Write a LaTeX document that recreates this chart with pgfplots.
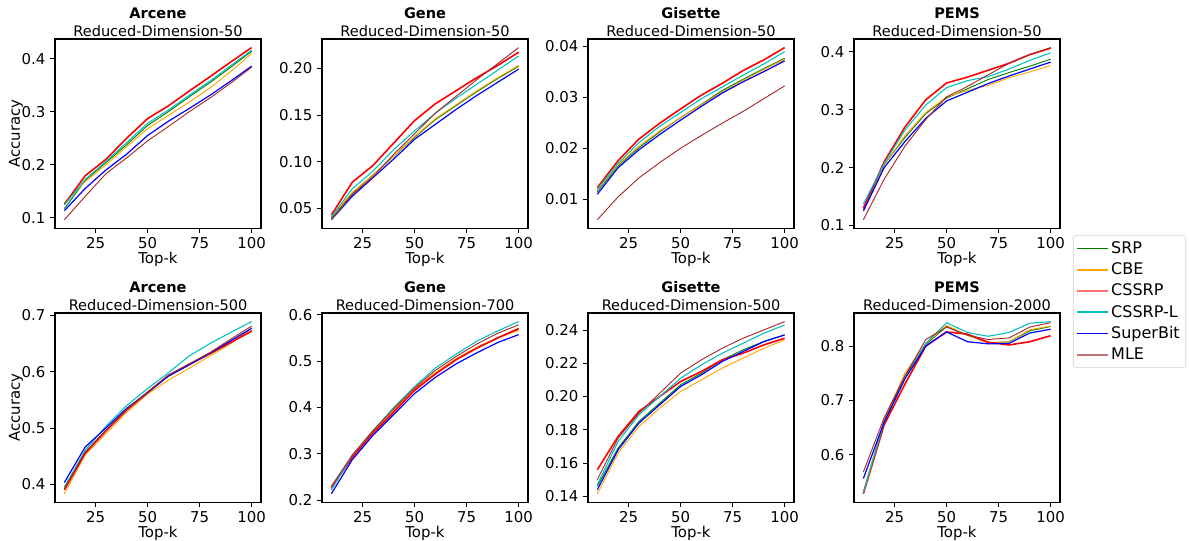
\documentclass[border=0pt]{standalone}
\usepackage{pgfplots}
\usepackage{pgfplotstable}
\pgfplotsset{compat=1.18}
\usepackage{fontspec}
\setmainfont{DejaVu Sans}

\definecolor{srp}{rgb}{0,0.5,0}
\definecolor{cbe}{HTML}{FFA500}
\definecolor{cssrp}{rgb}{1,0,0}
\definecolor{cssrpl}{rgb}{0,0.75,0.75}
\definecolor{superbit}{rgb}{0,0,1}
\definecolor{mle}{HTML}{A52A2A}

\pgfplotstableread{
k srp cbe cssrp cssrpl superbit mle
10 0.117 0.128 0.125 0.124 0.113 0.096
20 0.170 0.168 0.179 0.172 0.155 0.140
30 0.204 0.200 0.210 0.206 0.190 0.183
40 0.238 0.234 0.250 0.242 0.220 0.213
50 0.274 0.268 0.287 0.278 0.255 0.245
60 0.300 0.293 0.311 0.303 0.282 0.272
70 0.328 0.318 0.339 0.331 0.306 0.300
80 0.355 0.345 0.366 0.358 0.331 0.326
90 0.384 0.376 0.394 0.387 0.358 0.354
100 0.414 0.410 0.421 0.416 0.386 0.384
}\tA
\pgfplotstableread{
k srp cbe cssrp cssrpl superbit mle
10 0.040 0.041 0.043 0.041 0.038 0.038
20 0.066 0.067 0.078 0.071 0.063 0.065
30 0.086 0.086 0.096 0.090 0.083 0.084
40 0.106 0.106 0.120 0.113 0.103 0.108
50 0.126 0.127 0.144 0.133 0.124 0.130
60 0.145 0.146 0.162 0.152 0.140 0.152
70 0.160 0.161 0.176 0.168 0.156 0.170
80 0.175 0.176 0.190 0.183 0.171 0.188
90 0.189 0.190 0.203 0.198 0.185 0.205
100 0.202 0.203 0.217 0.213 0.199 0.222
}\tB
\pgfplotstableread{
k srp cbe cssrp cssrpl superbit mle
10 0.0115 0.0118 0.0123 0.0120 0.0110 0.0060
20 0.0166 0.0168 0.0176 0.0171 0.0162 0.0105
30 0.0201 0.0204 0.0218 0.0211 0.0197 0.0142
40 0.0232 0.0234 0.0249 0.0243 0.0227 0.0172
50 0.0260 0.0260 0.0277 0.0270 0.0255 0.0200
60 0.0286 0.0285 0.0304 0.0297 0.0282 0.0225
70 0.0313 0.0310 0.0327 0.0320 0.0308 0.0249
80 0.0335 0.0333 0.0352 0.0343 0.0330 0.0272
90 0.0356 0.0354 0.0373 0.0365 0.0350 0.0297
100 0.0376 0.0374 0.0397 0.0389 0.0371 0.0322
}\tC
\pgfplotstableread{
k srp cbe cssrp cssrpl superbit mle
10 0.128 0.130 0.130 0.137 0.125 0.110
20 0.205 0.205 0.210 0.207 0.200 0.180
30 0.252 0.255 0.270 0.265 0.245 0.237
40 0.293 0.295 0.317 0.308 0.285 0.283
50 0.320 0.322 0.346 0.338 0.315 0.322
60 0.336 0.333 0.356 0.350 0.330 0.340
70 0.352 0.342 0.368 0.357 0.345 0.360
80 0.364 0.355 0.380 0.370 0.358 0.380
90 0.375 0.365 0.395 0.385 0.370 0.395
100 0.387 0.376 0.406 0.398 0.382 0.407
}\tD
\pgfplotstableread{
k srp cbe cssrp cssrpl superbit mle
10 0.390 0.383 0.390 0.395 0.403 0.392
20 0.456 0.452 0.455 0.460 0.466 0.457
30 0.495 0.490 0.495 0.503 0.500 0.496
40 0.532 0.528 0.532 0.540 0.535 0.533
50 0.563 0.560 0.563 0.570 0.563 0.564
60 0.593 0.585 0.593 0.598 0.592 0.594
70 0.613 0.606 0.613 0.628 0.612 0.614
80 0.632 0.628 0.632 0.650 0.633 0.634
90 0.652 0.650 0.652 0.670 0.655 0.658
100 0.673 0.678 0.672 0.689 0.677 0.681
}\tE
\pgfplotstableread{
k srp cbe cssrp cssrpl superbit mle
10 0.226 0.226 0.228 0.222 0.214 0.230
20 0.293 0.295 0.292 0.297 0.287 0.297
30 0.346 0.348 0.345 0.350 0.340 0.350
40 0.391 0.393 0.390 0.400 0.385 0.397
50 0.438 0.440 0.437 0.445 0.430 0.442
60 0.473 0.475 0.472 0.485 0.465 0.480
70 0.504 0.505 0.503 0.515 0.494 0.510
80 0.529 0.530 0.528 0.543 0.518 0.537
90 0.550 0.550 0.550 0.565 0.540 0.560
100 0.569 0.566 0.570 0.585 0.557 0.578
}\tF
\pgfplotstableread{
k srp cbe cssrp cssrpl superbit mle
10 0.146 0.1415 0.156 0.147 0.144 0.150
20 0.169 0.166 0.176 0.173 0.168 0.175
30 0.185 0.182 0.191 0.189 0.184 0.190
40 0.196 0.193 0.200 0.200 0.195 0.202
50 0.207 0.203 0.209 0.211 0.206 0.214
60 0.214 0.210 0.215 0.219 0.213 0.222
70 0.222 0.217 0.222 0.226 0.221 0.229
80 0.228 0.223 0.226 0.232 0.227 0.235
90 0.233 0.229 0.231 0.238 0.233 0.240
100 0.237 0.234 0.235 0.243 0.237 0.245
}\tG
\pgfplotstableread{
k srp cbe cssrp cssrpl superbit mle
10 0.530 0.530 0.528 0.530 0.556 0.568
20 0.662 0.665 0.655 0.660 0.660 0.668
30 0.745 0.750 0.730 0.740 0.740 0.745
40 0.803 0.805 0.800 0.805 0.800 0.812
50 0.836 0.838 0.826 0.843 0.826 0.835
60 0.820 0.820 0.822 0.825 0.808 0.820
70 0.806 0.806 0.807 0.818 0.804 0.812
80 0.808 0.808 0.802 0.825 0.805 0.815
90 0.828 0.830 0.808 0.842 0.824 0.835
100 0.836 0.837 0.819 0.845 0.831 0.843
}\tH

\newcommand{\tfs}{\fontsize{10.9}{13.5}\selectfont}
\newcommand{\lfs}{\fontsize{11.2}{13.5}\selectfont}
\newcommand{\gfs}{\fontsize{12}{14}\selectfont}
\newcommand{\sixplots}[1]{%
\addplot[srp, line width=0.7pt, legend image post style={draw=srp}] table[x=k,y=srp]{#1};
\addplot[cbe, line width=0.7pt, legend image post style={draw=cbe}] table[x=k,y=cbe]{#1};
\addplot[cssrp, line width=1.2pt, legend image post style={line width=1.8pt, draw=cssrp!55}] table[x=k,y=cssrp]{#1};
\addplot[cssrpl, line width=0.8pt, legend image post style={draw=cssrpl}] table[x=k,y=cssrpl]{#1};
\addplot[superbit, line width=0.9pt, legend image post style={draw=superbit}] table[x=k,y=superbit]{#1};
\addplot[mle, line width=0.7pt, legend image post style={line width=1.6pt, draw=mle!65}] table[x=k,y=mle]{#1};
}

\pgfplotsset{
  panel/.style={
    scale only axis, width=154.5pt, height=142pt,
    xmin=5.5, xmax=104.5, enlarge y limits=0.05,
    scaled y ticks=false,
    xtick={25,50,75,100}, xticklabels={25,50,75,100},
    axis line style={line width=1.1pt},
    tick style={line width=0.6pt, black},
    major tick length=3.6pt,
    tick align=outside, xtick pos=bottom, ytick pos=left,
    /pgf/number format/assume math mode=true,
    every tick label/.append style={font=\lfs},
    every axis label/.append style={font=\lfs},
    xlabel={Top-k},
    xlabel style={at={(axis description cs:0.5,-0.165)}, anchor=center},
    ylabel style={at={(axis description cs:-0.19,0.5)}, anchor=center},
    title style={font=\tfs, align=center, at={(0.5,1)}, anchor=south, yshift=-4.5pt, inner sep=0pt},
    every axis plot/.append style={line join=round},
    legend image code/.code={\draw[line width=1.2pt, #1] plot coordinates {(0cm,0cm) (0.8cm,0cm)};},
  }
}

\begin{document}
\begin{tikzpicture}
\path[use as bounding box] (0,0) rectangle (891.75pt,-405pt);

\begin{axis}[panel, at={(41.25pt,-29.25pt)}, anchor=north west,
  title={\textbf{Arcene}\\Reduced-Dimension-50}, ylabel={Accuracy},
  ytick={0.1,0.2,0.3,0.4}, yticklabels={0.1,0.2,0.3,0.4}]
\sixplots{\tA}
\end{axis}

\begin{axis}[panel, at={(241.5pt,-29.25pt)}, anchor=north west,
  title={\textbf{Gene}\\Reduced-Dimension-50},
  ytick={0.05,0.10,0.15,0.20}, yticklabels={0.05,0.10,0.15,0.20}]
\sixplots{\tB}
\end{axis}

\begin{axis}[panel, at={(441pt,-29.25pt)}, anchor=north west,
  title={\textbf{Gisette}\\Reduced-Dimension-50},
  ytick={0.01,0.02,0.03,0.04}, yticklabels={0.01,0.02,0.03,0.04}]
\sixplots{\tC}
\end{axis}

\begin{axis}[panel, at={(640.5pt,-29.25pt)}, anchor=north west,
  title={\textbf{PEMS}\\Reduced-Dimension-50},
  ytick={0.1,0.2,0.3,0.4}, yticklabels={0.1,0.2,0.3,0.4}]
\sixplots{\tD}
\end{axis}

\begin{axis}[panel, at={(41.25pt,-234.75pt)}, anchor=north west,
  title={\textbf{Arcene}\\Reduced-Dimension-500}, ylabel={Accuracy},
  ytick={0.4,0.5,0.6,0.7}, yticklabels={0.4,0.5,0.6,0.7}]
\sixplots{\tE}
\end{axis}

\begin{axis}[panel, at={(241.5pt,-234.75pt)}, anchor=north west,
  title={\textbf{Gene}\\Reduced-Dimension-700},
  ytick={0.2,0.3,0.4,0.5,0.6}, yticklabels={0.2,0.3,0.4,0.5,0.6}]
\sixplots{\tF}
\end{axis}

\begin{axis}[panel, at={(441pt,-234.75pt)}, anchor=north west,
  title={\textbf{Gisette}\\Reduced-Dimension-500},
  ytick={0.14,0.16,0.18,0.20,0.22,0.24}, yticklabels={0.14,0.16,0.18,0.20,0.22,0.24}]
\sixplots{\tG}
\end{axis}

\begin{axis}[panel, at={(640.5pt,-234.75pt)}, anchor=north west,
  title={\textbf{PEMS}\\Reduced-Dimension-2000},
  ytick={0.6,0.7,0.8}, yticklabels={0.6,0.7,0.8},
  legend style={at={(1.063,1.41)}, anchor=north west, draw=black!18, rounded corners=2pt,
    font=\gfs, cells={anchor=west}, row sep=1.5pt, inner sep=2.5pt}]
\sixplots{\tH}
\legend{SRP,CBE,CSSRP,CSSRP-L,SuperBit,MLE}
\end{axis}
\end{tikzpicture}
\end{document}
